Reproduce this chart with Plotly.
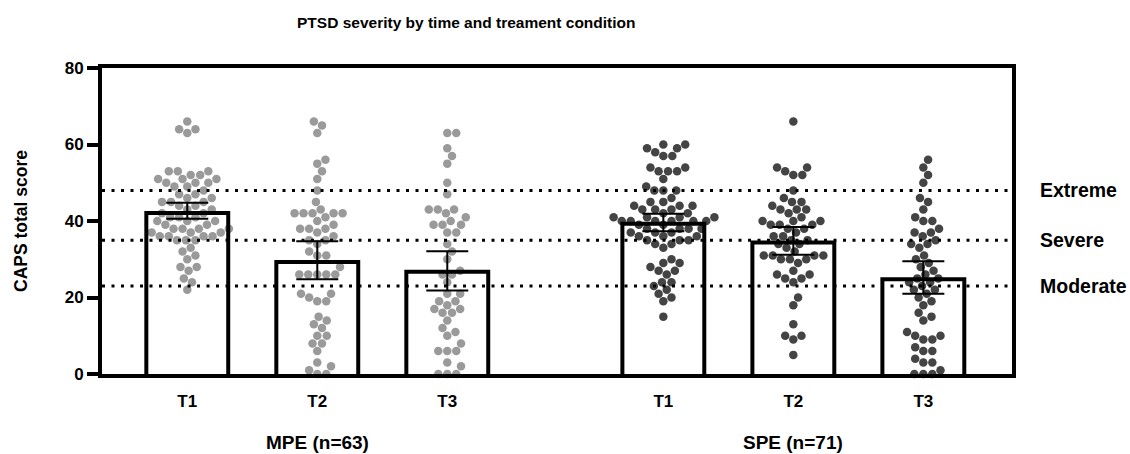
import math
import numpy as np
import plotly.graph_objects as go

# ---------------- data ----------------
groups = ["MPE (n=63)", "SPE (n=71)"]
times = ["T1", "T2", "T3"]

mpe_t1 = [66, 64, 64, 63, 53, 53, 53, 52, 52, 51, 51, 51, 50, 50, 50, 49, 49,
          48, 47, 47, 46, 46, 45, 45, 44, 44, 43, 43, 42, 42, 41, 41, 41, 40, 40, 40,
          39, 39, 38, 38, 38, 37, 37, 37, 36, 36, 36, 36, 35, 35, 35,
          33, 32, 31, 30, 28, 28, 25, 24, 22, 45, 38, 27]
mpe_t2 = [65, 66, 63, 56, 55, 53, 51, 48, 45, 43, 42, 42, 42, 42, 42, 41, 40, 39,
          38, 38, 38, 37, 36, 35, 35, 34, 32, 31, 31, 28, 26, 26, 26, 26, 26,
          21, 21, 20, 19, 19, 15, 14, 13, 12, 10, 10, 8, 8, 6, 3, 2, 1, 0, 0]
mpe_t3 = [63, 63, 59, 57, 55, 50, 47, 43, 43, 43, 41, 39, 39, 39, 37, 37, 34, 32,
          30, 27, 26, 26, 21, 21, 19, 19, 18, 17, 17, 16, 16, 14, 12, 11, 10,
          6, 6, 6, 3, 2, 0, 0, 40, 42, 24, 8, 0]
spe_t1 = [60, 60, 59, 59, 58, 57, 57, 54, 54, 53, 53, 53, 51, 49, 48, 48, 48,
          46, 45, 45, 44, 44, 44, 43, 43, 43, 42, 42,
          41, 41, 41, 41, 40, 40, 40, 40, 40, 40, 39, 39,
          38, 38, 38, 38, 37, 37, 37, 36, 36, 36, 35, 35, 35, 34, 34,
          30, 29, 29, 28, 27, 27, 26, 24, 24, 23, 22, 21, 20, 19, 15, 33]
spe_t2 = [66, 54, 54, 53, 52, 52, 48, 46, 45, 45, 44, 43, 43, 43, 42, 41, 40, 40,
          40, 39, 39, 39, 38, 38, 37, 36, 36, 35, 35, 34, 34, 33, 32, 31, 31, 31,
          31, 30, 30, 30, 29, 27, 26, 26, 25, 25, 24, 20, 18, 13, 10, 10, 9, 5]
spe_t3 = [56, 54, 52, 50, 46, 45, 43, 41, 40, 40, 38, 37, 37, 36, 35, 34, 34, 33,
          31, 30, 29, 28, 27, 25, 24, 25, 24, 23, 22, 22, 21, 20, 19, 18,
          16, 15, 14, 11, 10, 10, 9, 9, 7, 6, 6, 4, 3, 3, 1, 0, 0, 0, 26]

mpe_mean = [42.1, 29.3, 26.7]
mpe_hi = [44.8, 34.7, 32.1]
mpe_lo = [40.6, 24.8, 21.8]
spe_mean = [39.3, 34.4, 24.8]
spe_hi = [41.9, 38.4, 29.5]
spe_lo = [37.3, 31.2, 21.0]

thresholds = [48, 35, 23]
threshold_labels = ["Extreme", "Severe", "Moderate"]

# ---------------- layout constants ----------------
W, H = 1130, 454
ML, MR, MT, MB = 102, 118, 68, 80
group_gap = 3.662
bar_w = 0.63
x_range = [-0.656, 6.344]
y_range = [0, 80]
px_per_x = (W - ML - MR) / (x_range[1] - x_range[0])
px_per_y = (H - MT - MB) / (y_range[1] - y_range[0])
dot_size = 8.5
dot_d = 9.0

FONT = "Arial, Liberation Sans, sans-serif"
colors = ["#9a9a9a", "#444444"]


def swarm(values):
    vals = np.asarray(values, dtype=float)
    order = np.argsort(vals, kind="stable")
    placed = []
    offs = np.zeros(len(vals))
    for idx in order:
        y = vals[idx] * px_per_y
        near = [(px, py) for px, py in placed if abs(py - y) < dot_d]
        cands = [0.0]
        for px, py in near:
            dx = math.sqrt(max(dot_d ** 2 - (py - y) ** 2, 0))
            cands += [px + dx, px - dx]
        cands.sort(key=abs)
        for c in cands:
            if all((c - px) ** 2 + (y - py) ** 2 >= dot_d ** 2 - 1e-6 for px, py in near):
                offs[idx] = c
                placed.append((c, y))
                break
    return offs / px_per_x


series = [
    (mpe_t1, mpe_t2, mpe_t3),
    (spe_t1, spe_t2, spe_t3),
]
means = [mpe_mean, spe_mean]
his = [mpe_hi, spe_hi]
los = [mpe_lo, spe_lo]

fig = go.Figure()

positions = []
for g in range(2):
    for i in range(3):
        positions.append(g * group_gap + i)

all_means = means[0] + means[1]
fig.add_trace(go.Bar(x=positions, y=all_means, width=bar_w,
                     marker=dict(color="white", line=dict(width=0)),
                     showlegend=False, hoverinfo="skip"))

for g in range(2):
    for i in range(3):
        c = g * group_gap + i
        vals = series[g][i]
        offs = swarm(vals)
        fig.add_trace(go.Scatter(
            x=c + offs, y=vals, mode="markers",
            marker=dict(size=dot_size, color=colors[g], line=dict(width=0)),
            cliponaxis=False, showlegend=False))

for g in range(2):
    for i in range(3):
        c = g * group_gap + i
        m = means[g][i]
        fig.add_trace(go.Scatter(
            x=[c - bar_w / 2, c - bar_w / 2, c + bar_w / 2, c + bar_w / 2],
            y=[0, m, m, 0], mode="lines",
            line=dict(color="black", width=4), showlegend=False,
            hoverinfo="skip"))

fig.add_trace(go.Scatter(
    x=positions, y=all_means, mode="markers",
    marker=dict(size=1, color="rgba(0,0,0,0)"),
    error_y=dict(type="data", symmetric=False,
                 array=[h - m for h, m in zip(his[0] + his[1], all_means)],
                 arrayminus=[m - l for l, m in zip(los[0] + los[1], all_means)],
                 color="black", thickness=2, width=21),
    showlegend=False))

shapes = []
annotations = []
for t, lab in zip(thresholds, threshold_labels):
    shapes.append(dict(type="line", xref="paper", x0=0, x1=1, yref="y", y0=t, y1=t,
                       line=dict(color="black", width=3, dash="3px,6.5px"), layer="above"))
    annotations.append(dict(text=lab, xref="paper", x=(1038 - ML) / (W - ML - MR),
                            xanchor="left", yref="y", y=t, yanchor="middle",
                            showarrow=False,
                            font=dict(family=FONT, size=19.5, color="black", weight="bold")))

for g in range(2):
    annotations.append(dict(text=groups[g], xref="x", x=g * group_gap + 1, xanchor="center",
                            yref="paper", y=-(442 - (H - MB)) / (H - MT - MB),
                            yanchor="middle", showarrow=False,
                            font=dict(family=FONT, size=19, color="black", weight="bold")))

annotations.append(dict(text="PTSD severity by time and treament condition",
                        xref="paper", x=(466 - ML) / (W - ML - MR), xanchor="center",
                        yref="paper", y=1 + (MT - 22) / (H - MT - MB), yanchor="middle",
                        showarrow=False,
                        font=dict(family=FONT, size=15.5, color="black", weight="bold")))

fig.update_layout(
    width=W, height=H,
    margin=dict(l=ML, r=MR, t=MT, b=MB),
    plot_bgcolor="white", paper_bgcolor="white",
    shapes=shapes, annotations=annotations,
    showlegend=False,
    xaxis=dict(range=x_range, tickvals=positions, ticktext=times * 2,
               showline=True, linewidth=4, linecolor="black", mirror=True,
               ticks="", showgrid=False, zeroline=False, ticklabelstandoff=9,
               tickfont=dict(family=FONT, size=17, color="black", weight="bold")),
    yaxis=dict(range=y_range, tickvals=[0, 20, 40, 60, 80],
               showline=True, linewidth=4, linecolor="black", mirror=True,
               ticks="outside", ticklen=11, tickwidth=4, tickcolor="black",
               showgrid=False, zeroline=False,
               title=dict(text="CAPS total score", standoff=34,
                          font=dict(family=FONT, size=17.5, color="black", weight="bold")),
               tickfont=dict(family=FONT, size=17, color="black", weight="bold")),
)

fig.write_html("out.html", config={"displayModeBar": False},
               post_script="document.body.style.margin='0px';")
